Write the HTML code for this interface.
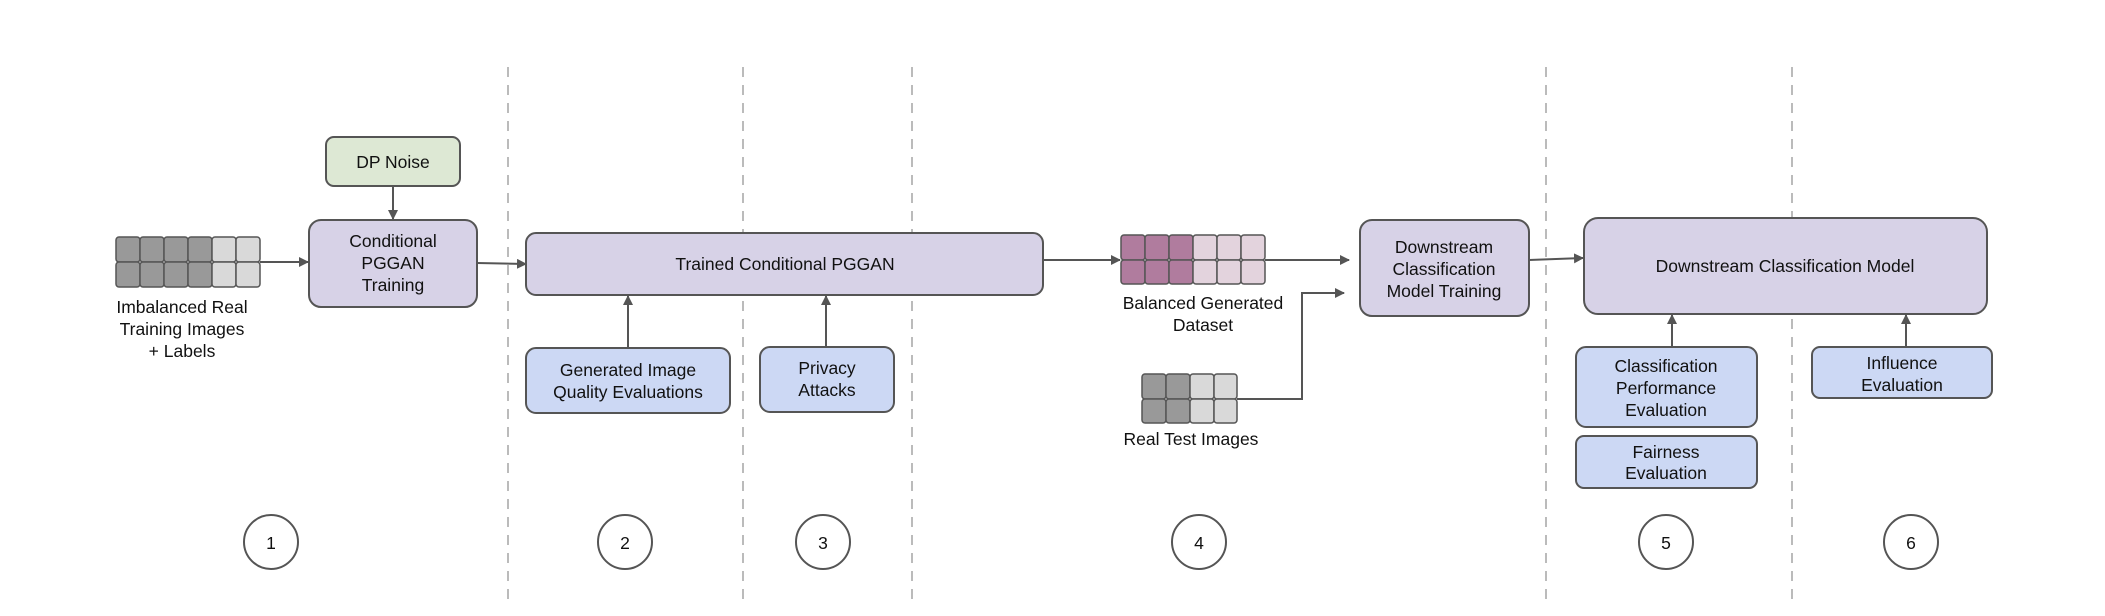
<!DOCTYPE html>
<html><head><meta charset="utf-8"><style>
body{margin:0;background:#fff}
svg text{font-family:"Liberation Sans",sans-serif;font-size:17.5px;fill:#111;text-anchor:middle}
</style></head><body>
<svg width="2105" height="611" xmlns="http://www.w3.org/2000/svg">
<defs><marker id="a" markerWidth="10" markerHeight="10" refX="9" refY="5" orient="auto" markerUnits="userSpaceOnUse"><path d="M0,0 L10,5 L0,10 z" fill="#555"/></marker></defs>
<g stroke="#bbb" stroke-width="2" stroke-dasharray="10,8">
<line x1="508" y1="67" x2="508" y2="600"/><line x1="743" y1="67" x2="743" y2="600"/><line x1="912" y1="67" x2="912" y2="600"/><line x1="1546" y1="67" x2="1546" y2="600"/><line x1="1792" y1="67" x2="1792" y2="600"/>
</g>
<g stroke="#555" stroke-width="2" fill="none">
<line x1="393" y1="186" x2="393" y2="219" marker-end="url(#a)"/>
<line x1="260" y1="262" x2="308" y2="262" marker-end="url(#a)"/>
<line x1="477" y1="263" x2="526" y2="264" marker-end="url(#a)"/>
<line x1="1043" y1="260" x2="1120" y2="260" marker-end="url(#a)"/>
<line x1="1265" y1="260" x2="1349" y2="260" marker-end="url(#a)"/>
<polyline points="1237,399 1302,399 1302,293 1344,293" marker-end="url(#a)"/>
<line x1="1529" y1="260" x2="1583" y2="258" marker-end="url(#a)"/>
<line x1="628" y1="348" x2="628" y2="296" marker-end="url(#a)"/>
<line x1="826" y1="347" x2="826" y2="296" marker-end="url(#a)"/>
<line x1="1672" y1="347" x2="1672" y2="315" marker-end="url(#a)"/>
<line x1="1906" y1="347" x2="1906" y2="315" marker-end="url(#a)"/>
</g>
<g stroke="#555" stroke-width="2">
<rect x="326" y="137" width="134" height="49" rx="8" fill="#dde8d4"/>
<rect x="309" y="220" width="168" height="87" rx="12" fill="#d7d2e7"/>
<rect x="526" y="233" width="517" height="62" rx="10" fill="#d7d2e7"/>
<rect x="526" y="348" width="204" height="65" rx="10" fill="#ccd8f4"/>
<rect x="760" y="347" width="134" height="65" rx="10" fill="#ccd8f4"/>
<rect x="1360" y="220" width="169" height="96" rx="12" fill="#d7d2e7"/>
<rect x="1584" y="218" width="403" height="96" rx="14" fill="#d7d2e7"/>
<rect x="1576" y="347" width="181" height="80" rx="10" fill="#ccd8f4"/>
<rect x="1576" y="436" width="181" height="52" rx="8" fill="#ccd8f4"/>
<rect x="1812" y="347" width="180" height="51" rx="8" fill="#ccd8f4"/>
</g>
<g stroke="#555" stroke-width="1.5">
<rect x="116" y="237" width="24" height="25" rx="3" fill="#999"/><rect x="140" y="237" width="24" height="25" rx="3" fill="#999"/><rect x="164" y="237" width="24" height="25" rx="3" fill="#999"/><rect x="188" y="237" width="24" height="25" rx="3" fill="#999"/><rect x="212" y="237" width="24" height="25" rx="3" fill="#d9d9d9"/><rect x="236" y="237" width="24" height="25" rx="3" fill="#d9d9d9"/>
<rect x="116" y="262" width="24" height="25" rx="3" fill="#999"/><rect x="140" y="262" width="24" height="25" rx="3" fill="#999"/><rect x="164" y="262" width="24" height="25" rx="3" fill="#999"/><rect x="188" y="262" width="24" height="25" rx="3" fill="#999"/><rect x="212" y="262" width="24" height="25" rx="3" fill="#d9d9d9"/><rect x="236" y="262" width="24" height="25" rx="3" fill="#d9d9d9"/>
<rect x="1121" y="235" width="24" height="25" rx="3" fill="#b07c9e"/><rect x="1145" y="235" width="24" height="25" rx="3" fill="#b07c9e"/><rect x="1169" y="235" width="24" height="25" rx="3" fill="#b07c9e"/><rect x="1193" y="235" width="24" height="25" rx="3" fill="#e3d3dd"/><rect x="1217" y="235" width="24" height="25" rx="3" fill="#e3d3dd"/><rect x="1241" y="235" width="24" height="25" rx="3" fill="#e3d3dd"/>
<rect x="1121" y="260" width="24" height="24" rx="3" fill="#b07c9e"/><rect x="1145" y="260" width="24" height="24" rx="3" fill="#b07c9e"/><rect x="1169" y="260" width="24" height="24" rx="3" fill="#b07c9e"/><rect x="1193" y="260" width="24" height="24" rx="3" fill="#e3d3dd"/><rect x="1217" y="260" width="24" height="24" rx="3" fill="#e3d3dd"/><rect x="1241" y="260" width="24" height="24" rx="3" fill="#e3d3dd"/>
<rect x="1142" y="374" width="24" height="25" rx="3" fill="#999"/><rect x="1166" y="374" width="24" height="25" rx="3" fill="#999"/><rect x="1190" y="374" width="24" height="25" rx="3" fill="#d9d9d9"/><rect x="1214" y="374" width="23" height="25" rx="3" fill="#d9d9d9"/>
<rect x="1142" y="399" width="24" height="24" rx="3" fill="#999"/><rect x="1166" y="399" width="24" height="24" rx="3" fill="#999"/><rect x="1190" y="399" width="24" height="24" rx="3" fill="#d9d9d9"/><rect x="1214" y="399" width="23" height="24" rx="3" fill="#d9d9d9"/>
</g>
<g fill="#fff" stroke="#555" stroke-width="2">
<circle cx="271" cy="542" r="27"/><circle cx="625" cy="542" r="27"/><circle cx="823" cy="542" r="27"/><circle cx="1199" cy="542" r="27"/><circle cx="1666" cy="542" r="27"/><circle cx="1911" cy="542" r="27"/>
</g>
<g>
<text x="393" y="168">DP Noise</text>
<text x="393" y="247">Conditional</text><text x="393" y="269">PGGAN</text><text x="393" y="291">Training</text>
<text x="182" y="313">Imbalanced Real</text><text x="182" y="335">Training Images</text><text x="182" y="357">+ Labels</text>
<text x="785" y="270">Trained Conditional PGGAN</text>
<text x="628" y="376">Generated Image</text><text x="628" y="398">Quality Evaluations</text>
<text x="827" y="374">Privacy</text><text x="827" y="396">Attacks</text>
<text x="1203" y="309">Balanced Generated</text><text x="1203" y="331">Dataset</text>
<text x="1191" y="445">Real Test Images</text>
<text x="1444" y="253">Downstream</text><text x="1444" y="275">Classification</text><text x="1444" y="297">Model Training</text>
<text x="1785" y="272">Downstream Classification Model</text>
<text x="1666" y="372">Classification</text><text x="1666" y="394">Performance</text><text x="1666" y="416">Evaluation</text>
<text x="1666" y="458">Fairness</text><text x="1666" y="479">Evaluation</text>
<text x="1902" y="369">Influence</text><text x="1902" y="391">Evaluation</text>
<g style="font-size:21px"><text x="271" y="549">1</text><text x="625" y="549">2</text><text x="823" y="549">3</text><text x="1199" y="549">4</text><text x="1666" y="549">5</text><text x="1911" y="549">6</text></g>
</g>
</svg>
</body></html>
